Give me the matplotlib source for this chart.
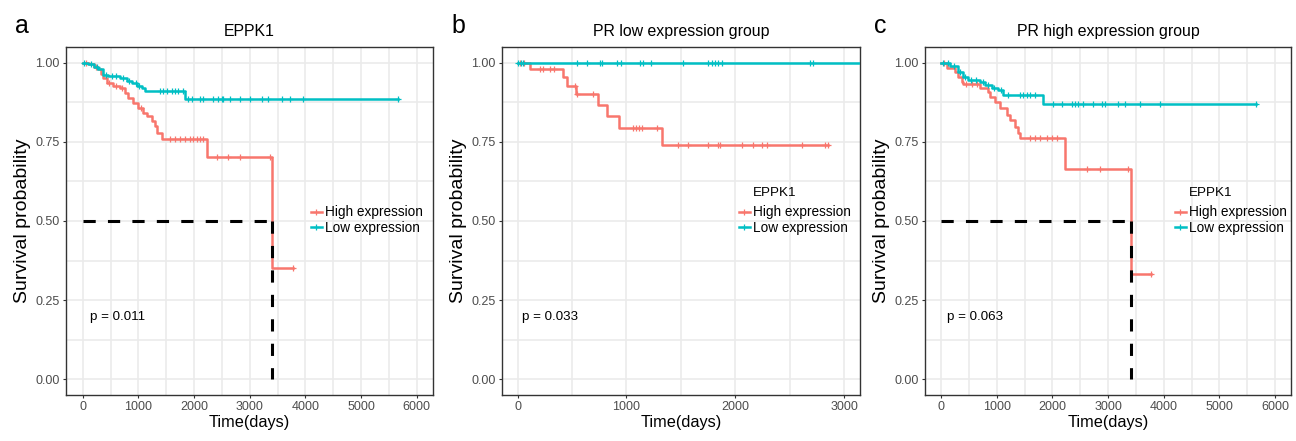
"""
Kaplan-Meier curves for EPPK1: all patients, PR low and PR high groups.
Values read off the published figure.
"""
import matplotlib.pyplot as plt
import numpy as np
from matplotlib.lines import Line2D
from matplotlib.ticker import MultipleLocator

RED = "#F8766D"
TEAL = "#00BFC4"
GRID = "#EBEBEB"
DARK = "#333333"
TICK = "#4D4D4D"

plt.rcParams["font.family"] = ["Liberation Sans", "DejaVu Sans"]

# panel a: EPPK1, all patients
a_hi_t = [0, 120, 200, 280, 330, 370, 430, 550, 670, 760, 820, 910, 1000, 1090, 1150, 1240, 1300, 1330, 1430, 2240, 3405]
a_hi_s = [1.0, 0.995, 0.987, 0.979, 0.966, 0.953, 0.937, 0.926, 0.921, 0.905, 0.889, 0.874, 0.858, 0.842,
          0.831, 0.816, 0.800, 0.779, 0.758, 0.703, 0.352]
a_hi_end = 3780
a_hi_cens = [60, 240, 480, 600, 700, 1050, 1567, 1657, 1747, 1837, 1926, 1986, 2047, 2106, 2166,
             2405, 2614, 2824, 3363, 3780]
a_lo_t = [0, 100, 200, 280, 370, 460, 670, 790, 880, 970, 1060, 1120, 1837]
a_lo_s = [1.0, 0.995, 0.987, 0.979, 0.963, 0.958, 0.952, 0.944, 0.937, 0.926, 0.921, 0.910, 0.887]
a_lo_end = 5660
a_lo_cens = [30, 150, 250, 420, 520, 600, 720, 830, 950, 1010, 1388, 1447, 1508, 1598, 1657, 1717, 1800,
             1896, 1957, 2106, 2166, 2345, 2435, 2495, 2525, 2645, 2824, 3004, 3213, 3333, 3572, 3722,
             3961, 5660]
a_median = 3405
a_pval = "p = 0.011"

# panel b: PR low expression group
b_hi_t = [0, 113, 413, 450, 536, 741, 824, 934, 1323]
b_hi_s = [1.0, 0.98, 0.954, 0.928, 0.900, 0.866, 0.832, 0.794, 0.741]
b_hi_end = 2855
b_hi_cens = [20, 60, 205, 236, 297, 334, 527, 548, 689, 1063, 1087, 1112, 1140, 1278, 1476, 1562,
             1752, 1844, 1859, 2064, 2166, 2243, 2289, 2610, 2824, 2855]
b_lo_t = [0]
b_lo_s = [1.0]
b_lo_end = 3200
b_lo_cens = [6, 30, 51, 548, 640, 756, 772, 910, 947, 1124, 1155, 1222, 1517, 1752, 1783, 1813, 1844,
             1881, 2687, 2711]
b_median = None
b_pval = "p = 0.033"

# panel c: PR high expression group
c_hi_t = [0, 103, 250, 310, 372, 400, 700, 850, 880, 970, 1060, 1180, 1240, 1330, 1390, 1420, 2226, 3405]
c_hi_s = [1.0, 0.985, 0.971, 0.956, 0.940, 0.932, 0.919, 0.908, 0.893, 0.877, 0.856, 0.835, 0.819,
          0.798, 0.777, 0.761, 0.663, 0.332]
c_hi_end = 3770
c_hi_cens = [50, 450, 560, 640, 1598, 1688, 1777, 1897, 1987, 2077, 2615, 2855, 3363, 3770]
c_lo_t = [0, 160, 310, 400, 490, 700, 790, 910, 1030, 1120, 1837]
c_lo_s = [1.0, 0.99, 0.971, 0.956, 0.945, 0.940, 0.930, 0.919, 0.914, 0.898, 0.869]
c_lo_end = 5660
c_lo_cens = [30, 120, 230, 350, 440, 540, 620, 750, 850, 960, 1080, 1209, 1418, 1478, 1538, 1598, 1688,
             2017, 2166, 2346, 2406, 2465, 2555, 2735, 2885, 2944, 3184, 3303, 3573, 3932, 5655]
c_median = 3405
c_pval = "p = 0.063"

PANELS = [
    dict(letter="a", title="EPPK1", rect=[66, 47, 433, 395], xlim=(-300, 6290), xmax=6000,
         hi=(a_hi_t, a_hi_s, a_hi_end, a_hi_cens), lo=(a_lo_t, a_lo_s, a_lo_end, a_lo_cens),
         median=a_median, pval=a_pval, pval_x=131, legend_title=None, leg_xy=(311, 205.5)),
    dict(letter="b", title="PR low expression group", rect=[502, 47, 860, 395], xlim=(-144, 3146), xmax=3000,
         hi=(b_hi_t, b_hi_s, b_hi_end, b_hi_cens), lo=(b_lo_t, b_lo_s, b_lo_end, b_lo_cens),
         median=b_median, pval=b_pval, pval_x=40, legend_title="EPPK1", leg_xy=(739, 205.5)),
    dict(letter="c", title="PR high expression group", rect=[925, 47, 1291, 395], xlim=(-287, 6284), xmax=6000,
         hi=(c_hi_t, c_hi_s, c_hi_end, c_hi_cens), lo=(c_lo_t, c_lo_s, c_lo_end, c_lo_cens),
         median=c_median, pval=c_pval, pval_x=108, legend_title="EPPK1", leg_xy=(1175, 205.5)),
]

W, H = 1296, 441


def step_value(t, s, x):
    idx = np.searchsorted(np.asarray(t), np.asarray(x), side="right") - 1
    return np.asarray(s)[idx]


def draw_curve(ax, curve, color):
    t, s, end, cens = curve
    xs = list(t) + [end]
    ys = list(s) + [s[-1]]
    ax.step(xs, ys, where="post", color=color, lw=1.8, zorder=3)
    ax.plot(cens, step_value(t, s, cens), ls="none", marker="+", ms=5, mew=0.9, color=color, zorder=3)


fig = plt.figure(figsize=(W / 100, H / 100), dpi=100)

for p in PANELS:
    x0, y0, x1, y1 = p["rect"]
    ax = fig.add_axes([x0 / W, 1 - y1 / H, (x1 - x0) / W, (y1 - y0) / H])
    ax.set_xlim(*p["xlim"])
    ax.set_ylim(-0.05, 1.05)
    ax.set_xticks(np.arange(0, p["xmax"] + 1, 1000))
    ax.xaxis.set_minor_locator(MultipleLocator(500))
    ax.set_yticks([0, 0.25, 0.5, 0.75, 1.0])
    ax.set_yticklabels(["0.00", "0.25", "0.50", "0.75", "1.00"])
    ax.yaxis.set_minor_locator(MultipleLocator(0.125))
    ax.grid(which="both", color=GRID, lw=1.2, zorder=0)
    ax.set_axisbelow(True)
    ax.tick_params(which="major", length=2.5, width=0.8, color=DARK, labelsize=9, labelcolor=TICK, pad=2)
    ax.tick_params(which="minor", length=0)
    for sp in ax.spines.values():
        sp.set_color(DARK)
        sp.set_linewidth(1.0)

    draw_curve(ax, p["hi"], RED)
    draw_curve(ax, p["lo"], TEAL)

    if p["median"] is not None:
        m = p["median"]
        ax.plot([0, m], [0.5, 0.5], color="black", lw=2.2, dashes=(4, 4), zorder=4)
        ax.plot([m, m], [0.5, 0], color="black", lw=2.2, dashes=(4, 4), zorder=4)

    ax.text(p["pval_x"], 0.195, p["pval"], fontsize=9.6, va="center", ha="left", color="black")

    ax.set_title(p["title"], fontsize=11.4, pad=8)
    ax.set_xlabel("Time(days)", fontsize=11.7, labelpad=1)
    ax.set_ylabel("Survival probability", fontsize=14, labelpad=3)

    handles = [Line2D([], [], color=RED, lw=1.8, marker="+", ms=5, mew=0.9),
               Line2D([], [], color=TEAL, lw=1.8, marker="+", ms=5, mew=0.9)]
    lx, ly = p["leg_xy"]
    ax.legend(handles, ["High expression", "Low expression"],
              loc="upper left", bbox_to_anchor=(lx / W, 1 - ly / H), bbox_transform=fig.transFigure,
              frameon=False, fontsize=9.8, handlelength=0.8, handletextpad=0.2,
              labelspacing=0.1, borderpad=0, borderaxespad=0)
    if p["legend_title"]:
        fig.text((lx + 14) / W, 1 - 193 / H, p["legend_title"], fontsize=9.6, ha="left", va="center")

    fig.text((x0 - 51) / W, 1 - 33 / H, p["letter"], fontsize=18, ha="left", va="baseline")

fig.savefig("out.png", dpi=100)
